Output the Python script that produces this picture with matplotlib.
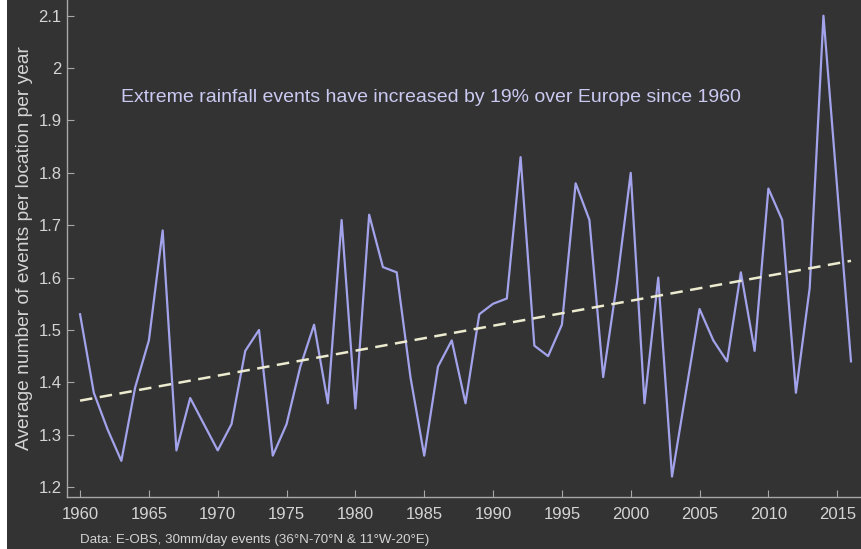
import numpy as np
import matplotlib
matplotlib.use("Agg")
import matplotlib.pyplot as plt
from matplotlib.patches import Rectangle

# annual values
years = list(range(1960, 2017))
events = [1.53, 1.38, 1.31, 1.25, 1.39, 1.48, 1.69, 1.27, 1.37, 1.32,
          1.27, 1.32, 1.46, 1.50, 1.26, 1.32, 1.43, 1.51, 1.36, 1.71,
          1.35, 1.72, 1.62, 1.61, 1.41, 1.26, 1.43, 1.48, 1.36, 1.53,
          1.55, 1.56, 1.83, 1.47, 1.45, 1.51, 1.78, 1.71, 1.41, 1.59,
          1.80, 1.36, 1.60, 1.22, 1.38, 1.54, 1.48, 1.44, 1.61, 1.46,
          1.77, 1.71, 1.38, 1.58, 2.10, 1.77, 1.44]
trend_years = [1960, 2016]
trend_vals = [1.365, 1.632]

xticks = list(range(1960, 2016, 5))
yticks = [1.2, 1.3, 1.4, 1.5, 1.6, 1.7, 1.8, 1.9, 2.0, 2.1]
ytick_labels = ["1.2", "1.3", "1.4", "1.5", "1.6", "1.7", "1.8", "1.9", "2", "2.1"]

bg = "#333333"
fg = "#d4d4d4"

plt.rcParams["font.family"] = ["Liberation Sans", "DejaVu Sans"]

fig = plt.figure(figsize=(8.62, 5.49), dpi=100, facecolor=bg)
ax = fig.add_axes([0.0777, 0.0947, 0.9223, 0.9053], facecolor=bg)

ax.plot(years, events, color="#a3a3ec", linewidth=1.6, zorder=3)
ax.plot(trend_years, trend_vals, color="#ecebcf", linewidth=1.8,
        linestyle=(0, (5, 3)), zorder=4)

ax.set_xlim(1959.05, 2016.8)
ax.set_ylim(1.181, 2.13)
ax.set_xticks(xticks)
ax.set_yticks(yticks)
ax.set_yticklabels(ytick_labels)

for s in ["top", "right"]:
    ax.spines[s].set_visible(False)
for s in ["left", "bottom"]:
    ax.spines[s].set_color("#a8a8a8")
    ax.spines[s].set_linewidth(1.0)
ax.tick_params(direction="in", length=5, width=0.8, colors="#a8a8a8",
               labelcolor=fg, labelsize=12)
ax.tick_params(axis="x", pad=7)
ax.tick_params(axis="y", pad=4)

ax.set_ylabel("Average number of events per location per year",
              color=fg, fontsize=13.8, labelpad=4)

fig.text(0.5, 0.823, "Extreme rainfall events have increased by 19% over Europe since 1960",
         ha="center", va="center", color="#c9c9f2", fontsize=14)

fig.text(0.093, 0.016, "Data: E-OBS, 30mm/day events (36\u00b0N-70\u00b0N & 11\u00b0W-20\u00b0E)",
         color=fg, fontsize=9.6, ha="left", va="center")

# thin white strip on the left edge
fig.patches.append(Rectangle((0, 0), 7 / 862, 1, transform=fig.transFigure,
                             facecolor="white", edgecolor="none", zorder=10))

fig.savefig("out.png", dpi=100, facecolor=bg)
